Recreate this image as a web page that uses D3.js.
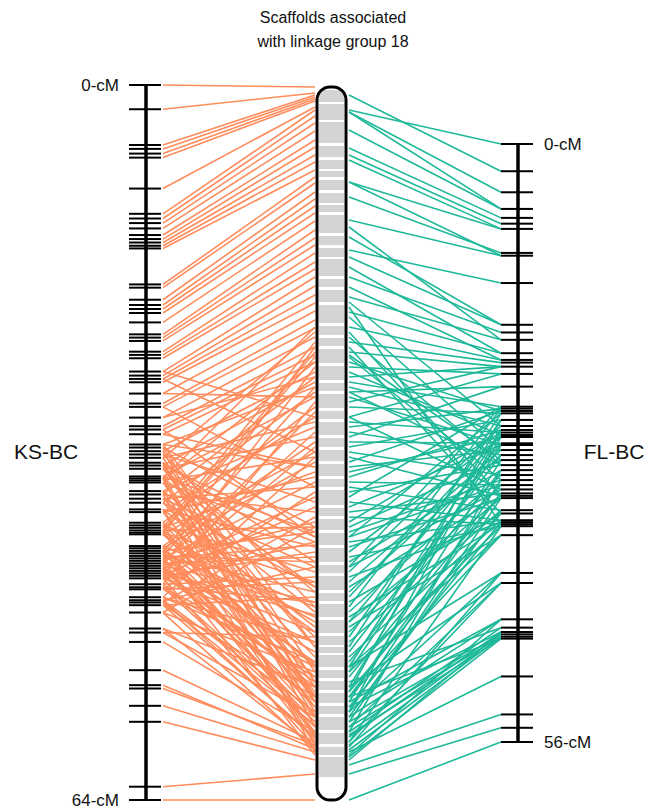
<!DOCTYPE html>
<html><head><meta charset="utf-8">
<script src="https://cdn.jsdelivr.net/npm/d3@7"></script>
<style>body{margin:0;background:#fff}svg{display:block;font-family:"Liberation Sans",Arial,sans-serif}</style>
</head><body><svg id="c" width="659" height="809"></svg>
<script>
// ---- data ----
const title = ["Scaffolds associated", "with linkage group 18"];
const ksName = "KS-BC", flName = "FL-BC";
const ksLength = 64, flLength = 56, chrLength = 71.3;
const ksTickLabels = ["0-cM", "64-cM"];
const flTickLabels = ["0-cM", "56-cM"];

const ksMarkers = [0,2.17,5.37,5.72,6.14,6.5,9.27,11.53,11.95,12.36,12.84,13.43,13.79,14.1,14.39,14.63,
17.85,18.14,19.22,19.69,20.05,20.41,21.25,22.32,22.61,22.91,23.87,24.16,24.46,25.65,26.01,26.31,26.61,
27.62,28.51,28.81,29.77,30.54,30.84,31.26,32.18,32.45,32.78,33.07,33.37,33.81,34.06,34.35,35.04,35.22,
35.4,35.58,36.35,36.65,37.03,37.39,37.99,38.23,39.18,39.42,39.64,39.87,40.07,40.22,41.27,41.47,41.7,
41.92,42.15,42.37,42.59,42.82,43.04,43.26,43.49,43.71,43.93,44.16,44.69,44.96,45.14,45.85,46.12,46.32,
46.56,47.22,48.65,49.01,49.85,52.38,53.72,54.02,55.57,57,62.81,64];

const flMarkers = [0,2.55,4.52,6.08,6.92,7.46,7.95,10.2,10.46,13.02,16.93,17.65,18.34,19.59,20.22,20.47,
20.85,21.53,22.72,24.6,24.78,25,25.22,25.84,26.41,26.78,27.02,27.25,27.44,28.03,28.19,28.66,29.13,29.6,
30.07,30.54,31,31.47,31.94,32.35,32.72,32.95,33.16,34.29,34.6,35.23,35.41,35.6,35.79,36.63,40.17,41.11,
44.51,45.29,45.7,45.92,46.14,46.32,49.86,53.42,54.67,56];

// scaffold bands on the chromosome (start, end)
const bandStart = [0.3,1.7,3.5,5.9,7.3,8.4,9.3,10.6,11.8,12.8,14.9,16.1,17.2,19.2,20.3,21.8,23.9,25.1,26.2,27.9,
29.6,30.7,32.4,33.5,35.1,36.3,37.7,39.2,40.3,42.1,43.2,44.6,46.1,47.8,48.9,50.6,51.7,53.3,54.9,56.0,56.8,
58.3,59.4,60.6,61.9,63.0,64.6,66.0,67.0];
const bandEnd = [1.5,3.3,5.6,7.0,8.2,9.0,10.3,11.6,12.5,14.6,15.8,17.0,18.9,20.0,21.5,23.6,24.8,25.9,27.6,29.3,
30.4,32.1,33.2,34.8,36.0,37.4,38.9,40.0,41.8,42.9,44.3,45.8,47.5,48.6,50.3,51.4,53.0,54.6,55.8,56.6,58.0,
59.1,60.3,61.6,62.7,64.3,65.7,66.8,69.0];

// links: map position (cM) -> chromosome position
const ksLinkCM = [0,2.17,5.37,5.72,6.14,6.5,9.27,11.53,11.95,12.36,12.84,13.43,13.79,14.1,14.39,14.63,
17.85,18.14,19.22,19.69,20.05,20.41,21.25,22.32,22.61,22.91,23.87,24.16,24.46,25.65,26.01,26.31,26.61,27.62,
28.51,28.81,29.77,30.54,30.84,31.26,
25.65,26.31,27.62,28.81,29.77,30.84,31.26,
32.18,32.45,32.78,33.07,33.37,33.81,34.06,34.35,35.04,35.22,35.4,35.58,36.35,36.65,37.03,37.39,37.99,38.23,
39.18,39.42,39.64,39.87,40.07,40.22,41.27,41.47,41.7,41.92,42.15,42.37,42.59,42.82,43.04,43.26,43.49,43.71,
43.93,44.16,44.69,44.96,45.14,45.85,46.12,46.32,46.56,47.22,48.65,49.01,49.85,52.38,53.72,54.02,55.57,57,
62.81,64,
32.18,32.78,33.37,34.06,34.35,35.04,35.4,36.35,36.65,37.03,37.39,38.23,39.18,39.64,40.07,41.27,41.47,41.92,
42.15,42.37,42.82,43.04,43.26,43.49,43.71,43.93,44.16,44.69,44.96,45.14,45.85,46.12,46.32,47.22,48.65,49.01,
41.7,42.59,40.22,39.87,33.81,35.22,37.99,46.56,
32.45,33.07,33.81,34.35,35.22,35.58,36.35,37.03,37.99,38.23,39.42,39.87,40.22,41.27,41.7,42.15,42.59,43.04,
43.49,43.93,44.16,44.69,45.14,45.85,46.56,47.22,32.18,33.37,34.06,35.04,36.65,37.39,39.18,40.07,41.47,42.37,
43.26,43.71,44.96,46.12];
const ksLinkChr = [0,0.6,0.8,1.0,1.2,1.4,2.0,2.3,2.9,3.6,4.4,5.3,6.0,6.8,7.5,8.3,
9.0,9.6,10.5,11.2,11.9,12.6,13.4,14.3,15.1,15.8,16.6,17.5,18.2,19.0,19.9,20.8,21.6,22.4,
23.3,24.1,25.0,26.0,26.8,27.5,
33.0,36.5,31.0,40.0,29.0,45.0,38.0,
30.0,44.0,28.5,52.0,33.5,47.5,29.5,56.0,31.0,50.0,37.0,60.0,34.0,42.5,55.0,30.5,46.0,62.0,
32.0,48.5,38.5,58.0,27.0,53.5,35.5,61.0,44.5,26.0,50.5,39.5,57.5,32.5,63.5,41.0,54.5,36.0,
59.5,45.5,49.0,64.0,40.5,55.5,62.5,43.0,65.0,58.5,66.0,63.0,64.5,65.5,66.2,65.8,66.5,67.3,
68.7,71.3,
38.0,61.5,24.5,45.0,35.0,63.0,27.5,52.5,29.0,40.0,57.0,33.0,60.5,25.5,49.5,64.5,37.5,53.0,
30.0,62.0,47.0,28.0,56.5,34.5,61.5,42.0,66.0,31.5,51.5,59.0,37.0,48.0,63.8,44.0,60.0,55.0,
65.5,43.5,36.5,26.5,61.0,24.0,64.8,51.0,
58.5,41.5,64.0,50.5,66.5,45.5,61.5,48.0,54.0,39.0,65.0,44.0,59.0,52.0,62.8,47.5,66.8,51.5,
60.0,46.5,55.5,63.5,49.5,57.5,61.0,66.3,56.0,59.5,62.5,44.5,65.8,50.0,54.5,60.8,57.8,45.8,
63.0,52.8,58.0,65.2];

const flLinkCM = [0,2.55,4.52,6.08,6.08,6.92,7.46,7.95,7.95,10.2,10.46,10.46,13.02,
16.93,16.93,17.65,18.34,18.34,19.59,19.59,20.22,20.22,20.47,20.85,20.85,20.85,21.53,21.53,22.72,22.72,
24.6,24.6,24.78,24.78,25,25,25.22,25.22,25.84,25.84,26.41,26.41,26.78,26.78,27.02,27.02,27.25,27.25,27.44,27.44,
28.03,28.03,28.19,28.19,28.66,28.66,29.13,29.13,29.6,29.6,30.07,30.07,30.54,30.54,31,31,31.47,31.47,31.94,31.94,
32.35,32.35,32.72,32.72,32.95,32.95,33.16,33.16,34.29,34.29,34.6,34.6,35.23,35.23,35.41,35.41,35.6,35.6,35.79,35.79,
36.63,36.63,
40.17,40.17,41.11,41.11,44.51,44.51,45.29,45.29,45.7,45.7,45.92,45.92,46.14,46.14,46.32,46.32,49.86,53.42,54.67,56,
28.66,30.07,31.47,32.95,34.6,35.6,26.41,29.6,
24.6,25.22,26.78,27.44,28.19,29.13,30.54,31.94,32.72,33.16,34.29,35.23,35.79,36.63,40.17,41.11,44.51,45.7,46.32,25.84];
const flLinkChr = [2.3,0.8,2.5,4.3,2.5,6.1,6.8,7.3,9.5,11.0,13.3,9.5,16.3,
17.0,15.0,19.0,21.0,14.0,22.5,18.0,24.0,20.0,25.5,26.5,29.0,31.5,28.0,33.0,30.5,35.0,
29.5,41.0,34.0,52.0,37.5,27.5,45.0,32.0,55.0,36.0,30.0,48.5,39.0,58.0,33.5,43.5,51.0,28.5,46.5,60.0,
35.5,53.5,31.0,42.0,49.5,38.0,56.5,34.5,44.0,61.5,40.5,30.5,47.5,57.5,36.5,52.5,44.5,62.5,39.5,54.5,
48.0,33.0,59.0,42.5,50.0,37.0,63.5,46.0,55.5,40.0,51.5,60.5,45.5,57.0,49.0,62.0,53.0,43.0,58.5,47.0,
61.0,54.0,
62.5,58.0,60.0,64.0,63.0,61.5,64.5,59.5,65.0,62.0,65.8,63.5,66.3,64.0,67.0,61.0,66.5,67.8,68.7,71.3,
23.0,25.0,27.0,24.5,26.0,22.0,21.5,26.8,
48.0,56.0,62.5,38.5,58.5,50.5,64.5,45.0,61.0,53.5,63.0,41.5,65.5,58.0,66.0,65.5,66.8,67.3,64.8,60.5];

// ---- drawing ----
const svg = d3.select("#c");
const ksX = 146, flX = 518, chrL = 317, chrR = 346;
const yKS = d3.scaleLinear().domain([0, ksLength]).range([85, 800]);
const yFL = d3.scaleLinear().domain([0, flLength]).range([144, 742]);
const yChr = d3.scaleLinear().domain([0, chrLength]).range([87, 800]);
const orange = "#ff8c5c", teal = "#1fb99a";

svg.append("g").selectAll("text").data(title).join("text")
  .attr("x", 333).attr("y", (d, i) => 23 + i * 24).attr("text-anchor", "middle")
  .attr("font-size", 16).attr("fill", "#111").text(d => d);

// links
const gL = svg.append("g").attr("stroke", orange).attr("stroke-width", 1.6).attr("fill", "none");
gL.selectAll("line").data(ksLinkCM.map((c, i) => [c, ksLinkChr[i]])).join("line")
  .attr("x1", 163).attr("y1", d => yKS(d[0])).attr("x2", chrL - 2).attr("y2", d => yChr(d[1]));
const gR = svg.append("g").attr("stroke", teal).attr("stroke-width", 1.6).attr("fill", "none");
gR.selectAll("line").data(flLinkCM.map((c, i) => [c, flLinkChr[i]])).join("line")
  .attr("x1", chrR + 3).attr("y1", d => yChr(d[1])).attr("x2", 501).attr("y2", d => yFL(d[0]));

// chromosome
const defs = svg.append("defs");
defs.append("clipPath").attr("id", "chrClip").append("rect")
  .attr("x", chrL).attr("y", yChr(0)).attr("width", chrR - chrL).attr("height", yChr(chrLength) - yChr(0)).attr("rx", 13);
svg.append("rect").attr("x", chrL).attr("y", yChr(0)).attr("width", chrR - chrL)
  .attr("height", yChr(chrLength) - yChr(0)).attr("rx", 13).attr("fill", "#fff");
svg.append("g").attr("clip-path", "url(#chrClip)").selectAll("rect")
  .data(bandStart.map((s, i) => [s, bandEnd[i]])).join("rect")
  .attr("x", chrL + 2).attr("width", chrR - chrL - 4)
  .attr("y", d => yChr(d[0])).attr("height", d => yChr(d[1]) - yChr(d[0]))
  .attr("fill", "#d4d4d4");
svg.append("rect").attr("x", chrL).attr("y", yChr(0)).attr("width", chrR - chrL)
  .attr("height", yChr(chrLength) - yChr(0)).attr("rx", 13)
  .attr("fill", "none").attr("stroke", "#000").attr("stroke-width", 3);

// map axes
function drawMap(x, y, markers, len, labels, side) {
  const g = svg.append("g");
  g.append("line").attr("x1", x).attr("x2", x).attr("y1", y(0) - 1).attr("y2", y(len) + 1)
    .attr("stroke", "#000").attr("stroke-width", 3.5);
  g.selectAll("line.t").data(markers).join("line").attr("class", "t")
    .attr("x1", x - 17).attr("x2", x + 15).attr("y1", d => y(d)).attr("y2", d => y(d))
    .attr("stroke", "#000").attr("stroke-width", 2);
  g.selectAll("text").data([0, len]).join("text")
    .attr("x", side < 0 ? x - 27 : x + 26).attr("y", d => y(d)).attr("dy", "0.33em")
    .attr("text-anchor", side < 0 ? "end" : "start").attr("font-size", 17).attr("fill", "#111")
    .text((d, i) => labels[i]);
}
drawMap(ksX, yKS, ksMarkers, ksLength, ksTickLabels, -1);
drawMap(flX, yFL, flMarkers, flLength, flTickLabels, 1);

svg.append("text").attr("x", 46).attr("y", 452).attr("dy", "0.35em").attr("text-anchor", "middle")
  .attr("font-size", 21).attr("fill", "#111").text(ksName);
svg.append("text").attr("x", 614).attr("y", 452).attr("dy", "0.35em").attr("text-anchor", "middle")
  .attr("font-size", 21).attr("fill", "#111").text(flName);
</script></body></html>
